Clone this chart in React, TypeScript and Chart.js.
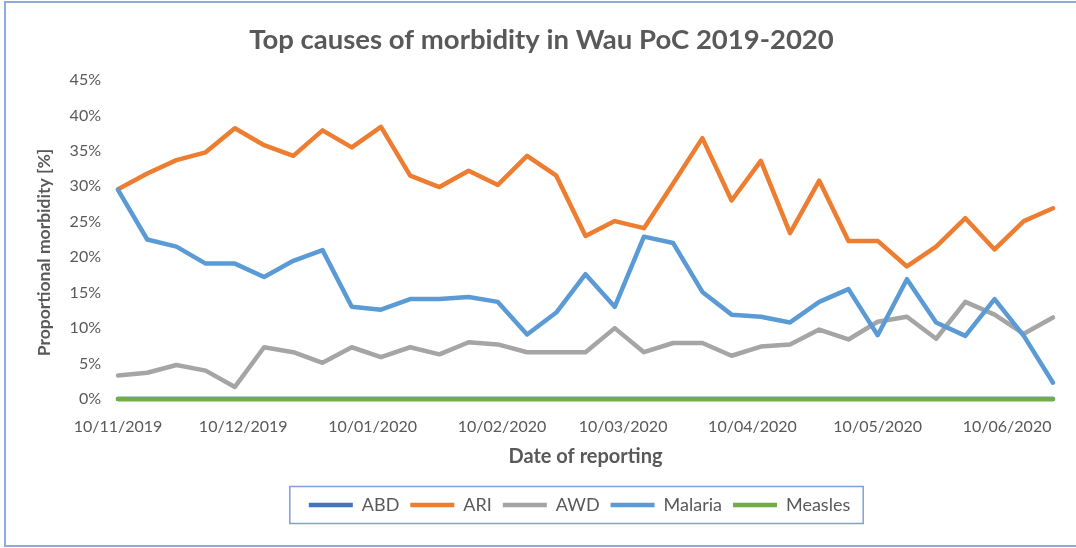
import React, { useEffect, useRef } from "react";
import { Chart, registerables } from "chart.js";

Chart.register(...registerables);

// Weekly reporting dates
const reportDates = [
  "2019-11-10", "2019-11-17", "2019-11-24", "2019-12-01", "2019-12-08", "2019-12-15",
  "2019-12-22", "2019-12-29", "2020-01-05", "2020-01-12", "2020-01-19", "2020-01-26",
  "2020-02-02", "2020-02-09", "2020-02-16", "2020-02-23", "2020-03-01", "2020-03-08",
  "2020-03-15", "2020-03-22", "2020-03-29", "2020-04-05", "2020-04-12", "2020-04-19",
  "2020-04-26", "2020-05-03", "2020-05-10", "2020-05-17", "2020-05-24", "2020-05-31",
  "2020-06-07", "2020-06-14", "2020-06-21",
];

// Monthly axis tick dates
const tickDates = [
  "2019-11-10", "2019-12-10", "2020-01-10", "2020-02-10",
  "2020-03-10", "2020-04-10", "2020-05-10", "2020-06-10",
];

// Proportional morbidity (%)
const abd = [
  0, 0, 0, 0, 0, 0, 0, 0, 0, 0, 0, 0, 0, 0, 0, 0, 0,
  0, 0, 0, 0, 0, 0, 0, 0, 0, 0, 0, 0, 0, 0, 0, 0,
];
const ari = [
  29.6, 31.8, 33.7, 34.8, 38.2, 35.8, 34.3, 37.9, 35.5, 38.4, 31.5, 29.9, 32.2, 30.2, 34.3, 31.5, 23.0,
  25.1, 24.1, 30.4, 36.8, 28.0, 33.6, 23.4, 30.8, 22.3, 22.3, 18.7, 21.5, 25.5, 21.1, 25.1, 26.9,
];
const awd = [
  3.3, 3.7, 4.8, 4.0, 1.7, 7.3, 6.6, 5.1, 7.3, 5.9, 7.3, 6.3, 8.0, 7.7, 6.6, 6.6, 6.6,
  10.0, 6.6, 7.9, 7.9, 6.1, 7.4, 7.7, 9.8, 8.4, 10.9, 11.6, 8.5, 13.7, 11.9, 9.2, 11.5,
];
const malaria = [
  29.5, 22.5, 21.5, 19.1, 19.1, 17.2, 19.5, 21.0, 13.0, 12.6, 14.1, 14.1, 14.4, 13.7, 9.1, 12.2, 17.6,
  13.0, 22.9, 22.0, 15.1, 11.9, 11.6, 10.8, 13.7, 15.5, 9.0, 16.9, 10.8, 8.9, 14.1, 8.9, 2.3,
];
const measles = [
  0, 0, 0, 0, 0, 0, 0, 0, 0, 0, 0, 0, 0, 0, 0, 0, 0,
  0, 0, 0, 0, 0, 0, 0, 0, 0, 0, 0, 0, 0, 0, 0, 0,
];

const seriesNames = ["ABD", "ARI", "AWD", "Malaria", "Measles"];
const seriesColors = ["#4472C4", "#ED7D31", "#A5A5A5", "#5B9BD5", "#70AD47"];
const seriesValues = [abd, ari, awd, malaria, measles];
const drawOrder = [4, 3, 2, 1, 0];

const chartTitle = "Top causes of morbidity in Wau PoC 2019-2020";
const xTitle = "Date of reporting";
const yTitle = "Proportional morbidity [%]";

const DAY = 86400000;
const toUtc = (s: string) => {
  const [y, m, d] = s.split("-").map(Number);
  return Date.UTC(y, m - 1, d);
};
const origin = toUtc(reportDates[0]);
const dayOf = (s: string) => Math.round((toUtc(s) - origin) / DAY);
const fmt = (s: string) => {
  const [y, m, d] = s.split("-");
  return `${d}/${m}/${y}`;
};

const TEXT = "#595959";
const FONT = "Lato, 'Open Sans', sans-serif";

const framePlugin = {
  id: "frame",
  afterLayout(chart: any) {
    // the original centres title and legend slightly right of the canvas centre
    const lg = chart.legend;
    if (lg) {
      lg.left += 53;
      lg.right += 53;
    }
    const tt = chart.titleBlock;
    if (tt) {
      tt.left += 15;
      tt.right += 15;
    }
  },
  afterDraw(chart: any) {
    const ctx = chart.ctx;
    ctx.save();
    // outer chart border
    ctx.strokeStyle = "#8FAADC";
    ctx.lineWidth = 2;
    ctx.strokeRect(5, 2, 1100, 544);
    // legend border
    const boxes = chart.legend?.legendHitBoxes || [];
    if (boxes.length) {
      const left = Math.min(...boxes.map((b: any) => b.left));
      const right = Math.max(...boxes.map((b: any) => b.left + b.width));
      const cy = boxes[0].top + boxes[0].height / 2;
      ctx.strokeStyle = "#7F9FDC";
      ctx.lineWidth = 1.5;
      ctx.strokeRect(left - 19, cy - 18.5, right - left + 32, 37);
    }
    // y axis title, centred like the original
    const ca = chart.chartArea;
    ctx.translate(44, (ca.top + ca.bottom) / 2 + 13);
    ctx.rotate(-Math.PI / 2);
    ctx.fillStyle = TEXT;
    ctx.font = `bold 17.5px ${FONT}`;
    ctx.textAlign = "center";
    ctx.textBaseline = "middle";
    ctx.fillText(yTitle, 0, 0);
    ctx.restore();
  },
};

export default function App() {
  const ref = useRef<HTMLCanvasElement | null>(null);

  useEffect(() => {
    if (!ref.current) return;
    const xs = reportDates.map(dayOf);
    const ticks = tickDates.map(dayOf);
    const labelFor = new Map(tickDates.map((t) => [dayOf(t), fmt(t)]));

    const chart = new Chart(ref.current, {
      type: "line",
      data: {
        datasets: seriesNames.map((name, i) => ({
          label: name,
          data: seriesValues[i].map((v, j) => ({ x: xs[j], y: v })),
          borderColor: seriesColors[i],
          backgroundColor: seriesColors[i],
          borderWidth: 4.5,
          pointRadius: 0,
          tension: 0,
          borderJoinStyle: "round" as const,
          borderCapStyle: "round" as const,
          clip: false as any,
          order: drawOrder[i],
        })),
      },
      options: {
        animation: false,
        responsive: false,
        devicePixelRatio: 1,
        layout: { padding: { left: 0, right: 23, top: 0, bottom: 24 } },
        plugins: {
          title: {
            display: true,
            text: chartTitle,
            color: TEXT,
            font: { family: FONT, size: 27.5, weight: "bold" },
            padding: { top: 23.5, bottom: 23.5 },
          },
          legend: {
            position: "bottom",
            labels: {
              color: TEXT,
              font: { family: FONT, size: 18 },
              usePointStyle: true,
              pointStyle: "line",
              pointStyleWidth: 44,
              padding: 11,
              sort: (a: any, b: any) => a.datasetIndex - b.datasetIndex,
            },
          },
          tooltip: { enabled: false },
        },
        scales: {
          x: {
            type: "linear",
            min: 0,
            max: xs[xs.length - 1],
            grid: { display: false, drawTicks: false },
            border: { display: false },
            afterBuildTicks: (scale: any) => {
              scale.ticks = ticks.map((v) => ({ value: v }));
            },
            afterFit: (scale: any) => {
              scale.height = 86;
            },
            ticks: {
              autoSkip: false,
              maxRotation: 0,
              minRotation: 0,
              padding: 18,
              color: TEXT,
              font: { family: FONT, size: 16 },
              callback: (v: any) => labelFor.get(Number(v)) ?? "",
            },
            title: {
              display: true,
              text: xTitle,
              color: TEXT,
              font: { family: FONT, size: 20, weight: "bold" },
              padding: { top: 0, bottom: 16 },
            },
          },
          y: {
            min: 0,
            max: 45,
            grid: { display: false, drawTicks: false },
            border: { display: false },
            afterFit: (scale: any) => {
              scale.width = 118;
            },
            ticks: {
              stepSize: 5,
              padding: 17,
              color: TEXT,
              font: { family: FONT, size: 16 },
              callback: (v: any) => `${v}%`,
            },
          },
        },
      },
      plugins: [framePlugin],
    } as any);
    return () => chart.destroy();
  }, []);

  return (
    <div style={{ position: "fixed", left: 0, top: 0, width: 1076, height: 548, background: "#fff" }}>
      <canvas ref={ref} width={1076} height={548} style={{ display: "block" }} />
    </div>
  );
}
